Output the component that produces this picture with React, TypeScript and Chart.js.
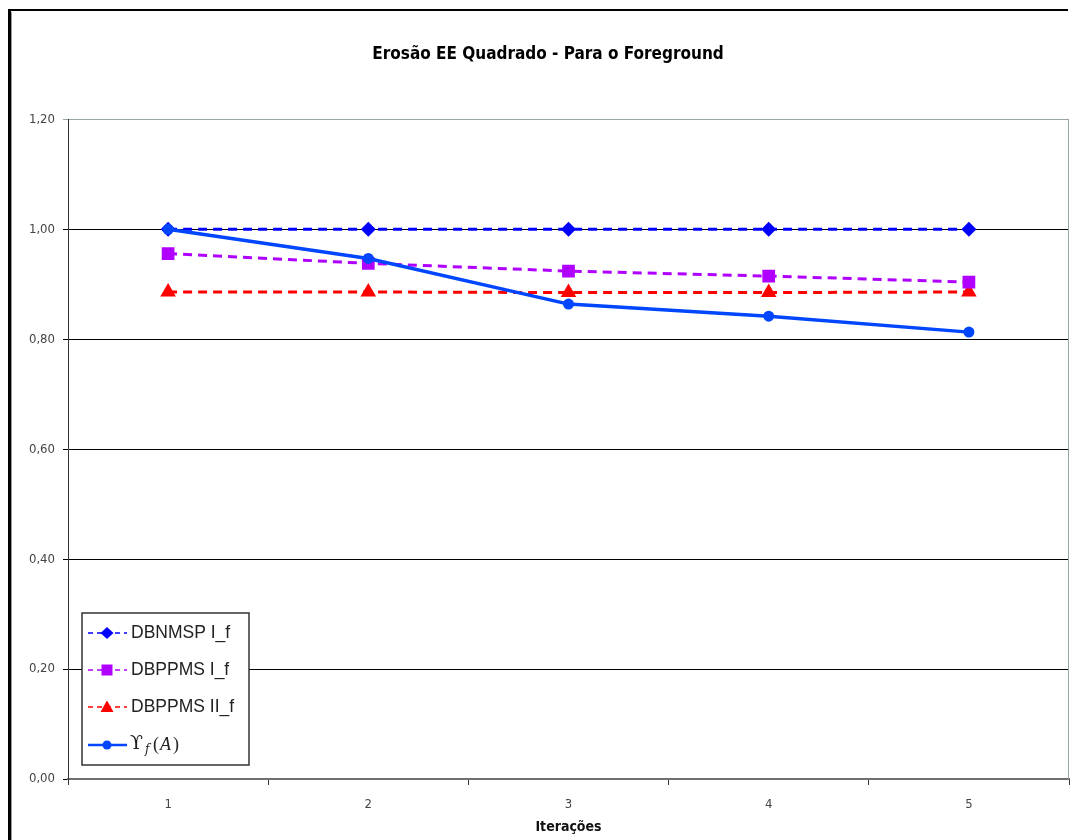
import React, { useEffect, useRef } from 'react';
import { Chart, registerables } from 'chart.js';

Chart.register(...registerables);

const categories = ['1', '2', '3', '4', '5'];
const dbnmspIf = [1.0, 1.0, 1.0, 1.0, 1.0];
const dbppmsIf = [0.956, 0.938, 0.924, 0.915, 0.904];
const dbppmsIIf = [0.886, 0.886, 0.885, 0.885, 0.886];
const upsilonFA = [1.0, 0.947, 0.864, 0.842, 0.813];
const yMin = 0;
const yMax = 1.2;
const yStep = 0.2;

const titleText = 'Erosão EE Quadrado - Para o Foreground';
const xTitleText = 'Iterações';
const legendLabels = ['DBNMSP I_f', 'DBPPMS I_f', 'DBPPMS II_f'];

const C_BLUE = '#0000FF';
const C_PURPLE = '#B000FF';
const C_RED = '#FF0000';
const C_UPS = '#0046FF';

const FONT_COND = '"DejaVu Sans Condensed", "DejaVu Sans", sans-serif';

function drawMarker(ctx: CanvasRenderingContext2D, kind: string, x: number, y: number, color: string) {
  ctx.save();
  ctx.fillStyle = color;
  ctx.beginPath();
  if (kind === 'diamond') {
    ctx.moveTo(x, y - 6);
    ctx.lineTo(x + 6.5, y);
    ctx.lineTo(x, y + 6);
    ctx.lineTo(x - 6.5, y);
    ctx.closePath();
  } else if (kind === 'square') {
    ctx.rect(x - 5.5, y - 5.5, 11, 11);
  } else if (kind === 'triangle') {
    ctx.moveTo(x, y - 6.5);
    ctx.lineTo(x + 6.5, y + 5);
    ctx.lineTo(x - 6.5, y + 5);
    ctx.closePath();
  } else {
    ctx.arc(x, y, 4.5, 0, Math.PI * 2);
  }
  ctx.fill();
  ctx.restore();
}

const framePlugin = {
  id: 'frame',
  beforeDraw(chart: any) {
    const ctx = chart.ctx as CanvasRenderingContext2D;
    ctx.save();
    ctx.fillStyle = '#ffffff';
    ctx.fillRect(0, 0, chart.width, chart.height);
    ctx.strokeStyle = '#000';
    ctx.lineWidth = 3;
    ctx.beginPath();
    ctx.moveTo(9.5, 9);
    ctx.lineTo(9.5, chart.height);
    ctx.stroke();
    ctx.lineWidth = 2;
    ctx.beginPath();
    ctx.moveTo(8, 10);
    ctx.lineTo(1068, 10);
    ctx.stroke();
    ctx.strokeStyle = '#999';
    ctx.lineWidth = 1;
    ctx.beginPath();
    ctx.moveTo(11.5, 12);
    ctx.lineTo(11.5, chart.height);
    ctx.stroke();
    ctx.restore();
  },
  afterDraw(chart: any) {
    const ctx = chart.ctx as CanvasRenderingContext2D;
    const a = chart.chartArea;
    ctx.save();
    ctx.strokeStyle = '#9aa6a6';
    ctx.lineWidth = 1;
    ctx.beginPath();
    ctx.moveTo(a.right - 0.5, a.top);
    ctx.lineTo(a.right - 0.5, a.bottom);
    ctx.stroke();
    ctx.restore();
  },
};

const legendPlugin = {
  id: 'boxLegend',
  afterDatasetsDraw(chart: any) {
    const ctx = chart.ctx as CanvasRenderingContext2D;
    const bx = 82, by = 613, bw = 167, bh = 152;
    ctx.save();
    ctx.fillStyle = '#ffffff';
    ctx.fillRect(bx, by, bw, bh);
    ctx.strokeStyle = '#333';
    ctx.lineWidth = 1.5;
    ctx.strokeRect(bx, by, bw, bh);
    const rows = [633, 670, 707, 745];
    const colors = [C_BLUE, C_PURPLE, C_RED, C_UPS];
    const kinds = ['diamond', 'square', 'triangle', 'circle'];
    for (let i = 0; i < 4; i++) {
      const y = rows[i];
      ctx.strokeStyle = colors[i];
      ctx.lineWidth = i === 3 ? 2.5 : 1.5;
      ctx.setLineDash(i === 3 ? [] : [5, 4]);
      ctx.beginPath();
      ctx.moveTo(88, y);
      ctx.lineTo(127, y);
      ctx.stroke();
      ctx.setLineDash([]);
      drawMarker(ctx, kinds[i], 107, y, colors[i]);
      ctx.fillStyle = '#222';
      ctx.textBaseline = 'middle';
      ctx.textAlign = 'left';
      if (i < 3) {
        ctx.font = '17.5px "Liberation Sans", Arial, sans-serif';
        ctx.fillText(legendLabels[i], 131, y);
      } else {
        ctx.font = '19px "DejaVu Serif", serif';
        ctx.fillText('ϒ', 130, y - 1);
        ctx.font = 'italic 12px "DejaVu Serif", serif';
        ctx.fillText('f', 145, y + 5);
        ctx.font = '18px "Liberation Serif", serif';
        ctx.fillText('(', 153, y);
        ctx.font = 'italic 18px "Liberation Serif", serif';
        ctx.fillText('A', 160, y);
        ctx.font = '18px "Liberation Serif", serif';
        ctx.fillText(')', 173, y);
      }
    }
    ctx.restore();
  },
};

export default function App() {
  const ref = useRef<HTMLCanvasElement | null>(null);
  useEffect(() => {
    if (!ref.current) return;
    const chart = new Chart(ref.current, {
      type: 'line',
      data: {
        labels: categories,
        datasets: [
          {
            label: 'ϒf(A)',
            data: upsilonFA,
            borderColor: C_UPS,
            backgroundColor: C_UPS,
            borderWidth: 3.5,
            pointStyle: 'circle',
            pointRadius: 5.5,
            pointBorderWidth: 0,
            order: 0,
          },
          {
            label: legendLabels[0],
            data: dbnmspIf,
            borderColor: C_BLUE,
            backgroundColor: C_BLUE,
            borderWidth: 3,
            borderDash: [9, 6],
            pointStyle: 'rectRot',
            pointRadius: 7.5,
            pointBorderWidth: 0,
            order: 1,
          },
          {
            label: legendLabels[1],
            data: dbppmsIf,
            borderColor: C_PURPLE,
            backgroundColor: C_PURPLE,
            borderWidth: 3,
            borderDash: [9, 6],
            pointStyle: 'rect',
            pointRadius: 9,
            pointBorderWidth: 0,
            order: 2,
          },
          {
            label: legendLabels[2],
            data: dbppmsIIf,
            borderColor: C_RED,
            backgroundColor: C_RED,
            borderWidth: 3,
            borderDash: [9, 6],
            pointStyle: 'triangle',
            pointRadius: 9,
            pointBorderWidth: 0,
            order: 3,
          },
        ],
      },
      options: {
        responsive: false,
        animation: false,
        devicePixelRatio: 1,
        layout: { padding: { left: 26, right: 8, top: 0, bottom: 0 } },
        plugins: {
          legend: { display: false },
          tooltip: { enabled: false },
          title: {
            display: true,
            text: titleText,
            color: '#000',
            font: { family: FONT_COND, size: 17, weight: 'bold', lineHeight: 1.2 },
            padding: { top: 44, bottom: 55 },
          },
        },
        scales: {
          x: {
            type: 'category',
            offset: true,
            afterFit: (s: any) => { s.height = 61; },
            grid: { offset: true, drawOnChartArea: false, drawTicks: true, tickLength: 6, color: '#333' },
            border: { display: true, color: '#707070', width: 2 },
            ticks: { color: '#444', padding: 12, font: { family: FONT_COND, size: 13 } },
            title: {
              display: true,
              text: xTitleText,
              color: '#111',
              font: { family: FONT_COND, size: 14, weight: 'bold' },
              padding: { top: 0, bottom: 4 },
            },
          },
          y: {
            min: yMin,
            max: yMax,
            afterFit: (s: any) => { s.width = 42; },
            grid: {
              color: (c: any) => (c.tick && Math.abs(c.tick.value - yMax) < 1e-6 ? '#9aa6a6' : '#000'),
              lineWidth: 1,
              drawTicks: true,
              tickLength: 5,
            },
            border: { display: true, color: '#333', width: 1 },
            ticks: {
              stepSize: yStep,
              color: '#444',
              padding: 8,
              font: { family: FONT_COND, size: 13 },
              callback: (v: any) => Number(v).toFixed(2).replace('.', ','),
            },
          },
        },
      },
      plugins: [framePlugin, legendPlugin],
    } as any);
    return () => chart.destroy();
  }, []);
  return (
    <div style={{ position: 'absolute', left: 0, top: 0, width: 1078, height: 840 }}>
      <canvas ref={ref} width={1078} height={840} style={{ display: 'block' }} />
    </div>
  );
}
